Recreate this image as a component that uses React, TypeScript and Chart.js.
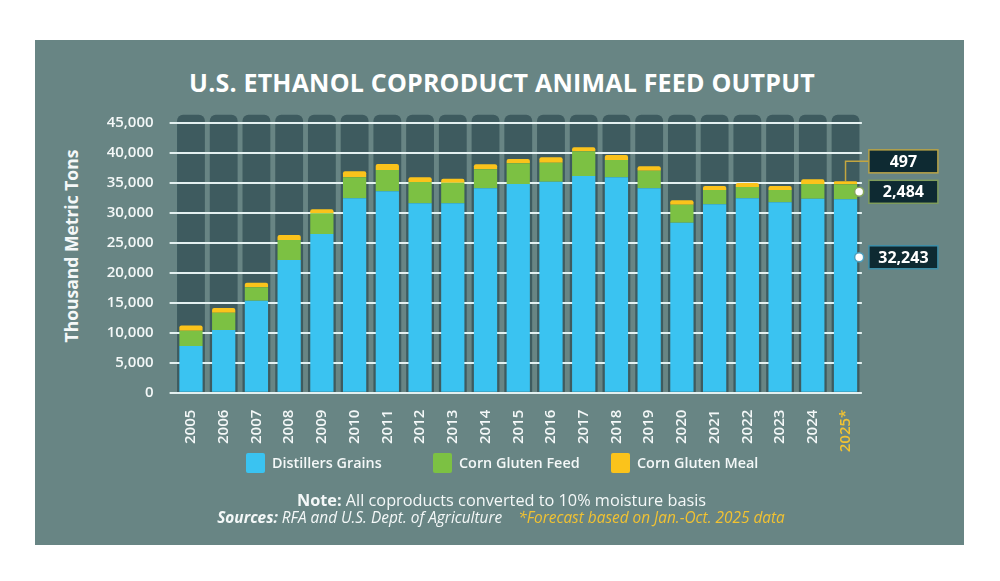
import React, { useEffect, useRef } from "react";
import { Chart, registerables } from "chart.js";

Chart.register(...registerables);

// Coproduct output by year, thousand metric tons (10% moisture basis)
const years = [
  "2005", "2006", "2007", "2008", "2009", "2010", "2011", "2012", "2013", "2014",
  "2015", "2016", "2017", "2018", "2019", "2020", "2021", "2022", "2023", "2024", "2025*",
];
const distillersGrains = [
  7800, 10450, 15330, 22100, 26450, 32400, 33570, 31570, 31570, 34070,
  34780, 35170, 36120, 35900, 34070, 28330, 31400, 32400, 31730, 32330, 32243,
];
const cornGlutenFeed = [
  2530, 2880, 2230, 3350, 3450, 3500, 3550, 3550, 3430, 3170,
  3450, 3170, 4120, 2880, 2930, 3000, 2380, 1880, 2050, 2450, 2484,
];
const cornGlutenMeal = [
  850, 780, 770, 830, 670, 1000, 1000, 780, 670, 830,
  720, 900, 670, 830, 730, 730, 670, 670, 670, 780, 497,
];
const yMin = 0;
const yMax = 45000;
const yStep = 5000;

const FONT = "'Open Sans', 'Noto Sans', sans-serif";
const BLUE = "#3ac3f1";
const GREEN = "#7cc143";
const GOLD = "#fbc31b";
const PANEL = "#688584";
const COLUMN = "#3e5b5f";
const GRID = "#e3f0f0";
const TEXT = "#f4f8f8";
const FORECAST = "#f1c232";

const fmt = (v: number) => v.toLocaleString("en-US");

// Dark rounded column behind every category
const columnBackdrop = {
  id: "columnBackdrop",
  beforeDraw(chart: any) {
    const { ctx, chartArea, scales } = chart;
    const xs = scales.x;
    const step = xs.getPixelForValue(1) - xs.getPixelForValue(0);
    const w = step * 0.85;
    const top = chartArea.top - 8;
    ctx.save();
    ctx.fillStyle = COLUMN;
    for (let i = 0; i < years.length; i++) {
      const cx = xs.getPixelForValue(i);
      ctx.beginPath();
      ctx.roundRect(cx - w / 2, top, w, chartArea.bottom - top, [6, 6, 0, 0]);
      ctx.fill();
    }
    ctx.restore();
  },
};

// Value call-outs for the latest (forecast) year
const forecastCallouts = {
  id: "forecastCallouts",
  afterDatasetsDraw(chart: any) {
    const { ctx, chartArea, scales } = chart;
    const i = years.length - 1;
    const xs = scales.x;
    const ys = scales.y;
    const dg = distillersGrains[i];
    const cgf = cornGlutenFeed[i];
    const cgm = cornGlutenMeal[i];
    const cx = xs.getPixelForValue(i);
    const bar = chart.getDatasetMeta(0).data[i];
    const barRight = cx + bar.width / 2;
    const totalTop = ys.getPixelForValue(dg + cgf + cgm);
    const feedMid = ys.getPixelForValue(dg + cgf / 2);
    const grainsMark = ys.getPixelForValue(dg * 0.7);

    const boxLeft = chartArea.right + 7;
    const boxW = 69;
    const boxH = 23;

    const drawBox = (cy: number, label: string, border: string) => {
      ctx.save();
      ctx.fillStyle = "#0e2a32";
      ctx.fillRect(boxLeft, cy - boxH / 2, boxW, boxH);
      ctx.strokeStyle = border;
      ctx.lineWidth = 1.5;
      ctx.strokeRect(boxLeft, cy - boxH / 2, boxW, boxH);
      ctx.fillStyle = "#ffffff";
      ctx.font = `700 16px ${FONT}`;
      ctx.textAlign = "center";
      ctx.textBaseline = "middle";
      ctx.fillText(label, boxLeft + boxW / 2, cy + 1);
      ctx.restore();
    };
    const drawDot = (cy: number, border: string) => {
      ctx.save();
      ctx.beginPath();
      ctx.arc(barRight + 2, cy, 4.5, 0, Math.PI * 2);
      ctx.fillStyle = "#ffffff";
      ctx.fill();
      ctx.strokeStyle = border;
      ctx.lineWidth = 1.5;
      ctx.stroke();
      ctx.restore();
    };

    // meal: leader line from the top of the stack
    const mealY = totalTop - 20;
    ctx.save();
    ctx.strokeStyle = "#c3a640";
    ctx.lineWidth = 1.5;
    ctx.beginPath();
    ctx.moveTo(cx, totalTop);
    ctx.lineTo(cx, mealY);
    ctx.lineTo(boxLeft, mealY);
    ctx.stroke();
    ctx.restore();
    drawBox(mealY, fmt(cgm), "#b9a447");

    drawDot(feedMid, "#86a85a");
    drawBox(feedMid, fmt(cgf), "#7f9d5c");

    drawDot(grainsMark, "#4a9fbf");
    drawBox(grainsMark, fmt(dg), "#3f8fa8");
  },
};

const legendItems = [
  { label: "Distillers Grains", color: BLUE, box: 246, text: 272 },
  { label: "Corn Gluten Feed", color: GREEN, box: 433, text: 459 },
  { label: "Corn Gluten Meal", color: GOLD, box: 611, text: 637 },
];

export default function App() {
  const canvasRef = useRef<HTMLCanvasElement | null>(null);

  useEffect(() => {
    const canvas = canvasRef.current;
    if (!canvas) return;
    const chart = new Chart(canvas, {
      type: "bar",
      data: {
        labels: years,
        datasets: [
          { label: "Distillers Grains", data: distillersGrains, backgroundColor: BLUE },
          { label: "Corn Gluten Feed", data: cornGlutenFeed, backgroundColor: GREEN },
          {
            label: "Corn Gluten Meal",
            data: cornGlutenMeal,
            backgroundColor: GOLD,
            borderRadius: { topLeft: 2, topRight: 2, bottomLeft: 0, bottomRight: 0 },
            borderSkipped: false,
          },
        ],
      },
      options: {
        responsive: false,
        animation: false,
        events: [],
        datasets: { bar: { categoryPercentage: 1, barPercentage: 0.71 } },
        layout: { padding: { top: 122.7, right: 138.1, bottom: 0, left: 0 } },
        plugins: {
          legend: { display: false },
          title: { display: false },
          tooltip: { enabled: false },
        },
        scales: {
          x: {
            stacked: true,
            grid: { display: false },
            border: { display: false },
            ticks: {
              autoSkip: false,
              minRotation: 90,
              maxRotation: 90,
              padding: 9,
              color: (c: any) => (c.index === years.length - 1 ? FORECAST : TEXT),
              font: { family: FONT, size: 15, weight: 600 },
            },
            afterFit: (s: any) => {
              s.height = 188.3;
            },
          },
          y: {
            stacked: true,
            min: yMin,
            max: yMax,
            border: { display: false },
            grid: { color: GRID, lineWidth: 2, tickLength: 5, drawTicks: true },
            ticks: {
              stepSize: yStep,
              padding: 16,
              color: TEXT,
              font: { family: FONT, size: 15, weight: 600 },
            },
            afterFit: (s: any) => {
              s.width = 174.6;
            },
          },
        },
      },
      plugins: [columnBackdrop, forecastCallouts],
    });
    if (document.fonts && document.fonts.ready) {
      document.fonts.ready.then(() => chart.update());
    }
    return () => chart.destroy();
  }, []);

  const abs = (extra: React.CSSProperties): React.CSSProperties => ({
    position: "absolute",
    whiteSpace: "nowrap",
    fontFamily: FONT,
    color: TEXT,
    ...extra,
  });

  return (
    <div
      style={{
        position: "fixed",
        left: 0,
        top: 0,
        width: 1000,
        height: 581,
        background: "#ffffff",
        overflow: "hidden",
      }}
    >
      <div style={{ position: "absolute", left: 35, top: 40, width: 929, height: 505, background: PANEL }} />
      <div
        style={abs({
          left: 2,
          top: 69.5,
          width: 1000,
          textAlign: "center",
          fontSize: 25,
          lineHeight: "25px",
          fontWeight: 700,
          letterSpacing: 0.2,
          color: "#ffffff",
        })}
      >
        U.S. ETHANOL COPRODUCT ANIMAL FEED OUTPUT
      </div>
      <div
        style={abs({
          left: 72,
          top: 246,
          fontSize: 17.5,
          lineHeight: "17.5px",
          fontWeight: 700,
          transform: "translate(-50%, -50%) rotate(-90deg)",
        })}
      >
        Thousand Metric Tons
      </div>
      <canvas
        ref={canvasRef}
        width={1000}
        height={581}
        style={{ position: "absolute", left: 0, top: 0, width: 1000, height: 581 }}
      />
      {legendItems.map((it) => (
        <React.Fragment key={it.label}>
          <div
            style={{
              position: "absolute",
              left: it.box,
              top: 453,
              width: 19,
              height: 20,
              borderRadius: 2,
              background: it.color,
            }}
          />
          <div style={abs({ left: it.text, top: 455.5, fontSize: 14.4, lineHeight: "14.4px", fontWeight: 600 })}>
            {it.label}
          </div>
        </React.Fragment>
      ))}
      <div
        style={abs({
          left: 1.5,
          top: 492,
          width: 1000,
          textAlign: "center",
          fontSize: 16.3,
          lineHeight: "16.3px",
        })}
      >
        <span style={{ fontWeight: 700 }}>Note:</span> All coproducts converted to 10% moisture basis
      </div>
      <div
        style={abs({
          left: 1,
          top: 510,
          width: 1000,
          textAlign: "center",
          fontSize: 15.4,
          lineHeight: "15.4px",
          fontStyle: "italic",
        })}
      >
        <span style={{ fontWeight: 700 }}>Sources:</span> RFA and U.S. Dept. of Agriculture
        <span style={{ display: "inline-block", width: 16 }} />
        <span style={{ color: FORECAST }}>*Forecast based on Jan.-Oct. 2025 data</span>
      </div>
    </div>
  );
}
